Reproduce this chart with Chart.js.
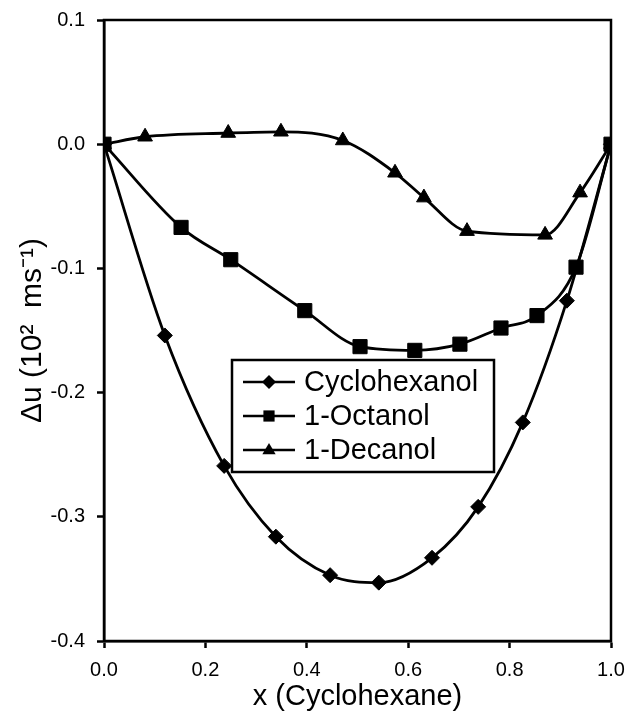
<!DOCTYPE html>
<html>
<head>
<meta charset="utf-8">
<script src="https://cdn.jsdelivr.net/npm/chart.js@4.4.1/dist/chart.umd.min.js"></script>
<style>
  html, body { margin: 0; padding: 0; background: #fff; }
  #wrap { width: 627px; height: 714px; position: relative; }
</style>
</head>
<body>
<div id="wrap"><canvas id="c" width="627" height="714"></canvas></div>
<script>
// ---- data ----
const seriesNames = ["Cyclohexanol", "1-Octanol", "1-Decanol"];

const xCyclohexanol = [0.0, 0.120, 0.237, 0.339, 0.446, 0.542, 0.647, 0.738, 0.826, 0.913, 1.0];
const yCyclohexanol = [0.0, -0.154, -0.259, -0.316, -0.347, -0.353, -0.333, -0.292, -0.224, -0.126, 0.0];

const xOctanol = [0.0, 0.152, 0.250, 0.396, 0.505, 0.613, 0.702, 0.783, 0.854, 0.931, 1.0];
const yOctanol = [0.0, -0.067, -0.093, -0.134, -0.163, -0.166, -0.161, -0.148, -0.138, -0.099, 0.0];

const xDecanol = [0.0, 0.081, 0.245, 0.349, 0.471, 0.574, 0.631, 0.716, 0.870, 0.939, 1.0];
const yDecanol = [0.0, 0.006, 0.009, 0.010, 0.003, -0.023, -0.043, -0.070, -0.073, -0.039, 0.0];

const xTicks = [0.0, 0.2, 0.4, 0.6, 0.8, 1.0];
const yTicks = [0.1, 0.0, -0.1, -0.2, -0.3, -0.4];

const xTitle = "x (Cyclohexane)";
const yTitle = "\u0394u (10\u00B2  ms\u207B\u00B9)";

function pts(xs, ys) { return xs.map((x, i) => ({ x: x, y: ys[i] })); }

const FONT = "'Liberation Sans', Arial, Helvetica, sans-serif";

const frame = {
  id: 'frame',
  afterDatasetsDraw(chart) {
    const { ctx, chartArea: a } = chart;
    ctx.save();
    ctx.strokeStyle = '#000';
    ctx.lineWidth = 2.5;
    ctx.strokeRect(a.left, a.top, a.right - a.left, a.bottom - a.top);
    ctx.restore();
  }
};

function drawMarker(ctx, style, x, y, r) {
  ctx.beginPath();
  if (style === 'rectRot') {
    ctx.moveTo(x, y - r); ctx.lineTo(x + r, y); ctx.lineTo(x, y + r); ctx.lineTo(x - r, y);
  } else if (style === 'rect') {
    ctx.rect(x - r * 0.8, y - r * 0.8, r * 1.6, r * 1.6);
  } else {
    ctx.moveTo(x, y - r); ctx.lineTo(x + r * 0.95, y + r * 0.6); ctx.lineTo(x - r * 0.95, y + r * 0.6);
  }
  ctx.closePath();
  ctx.fill();
}

const boxLegend = {
  id: 'boxLegend',
  afterDraw(chart) {
    const ctx = chart.ctx;
    const bx = 232, by = 360, bw = 262, bh = 112;
    ctx.save();
    ctx.fillStyle = '#fff';
    ctx.fillRect(bx, by, bw, bh);
    ctx.strokeStyle = '#000';
    ctx.lineWidth = 2.5;
    ctx.strokeRect(bx, by, bw, bh);
    ctx.font = '29px ' + FONT;
    ctx.textBaseline = 'middle';
    ctx.fillStyle = '#000';
    const rows = [382, 416, 450];
    chart.data.datasets.forEach((ds, i) => {
      const y = rows[i];
      ctx.lineWidth = 2.5;
      ctx.beginPath();
      ctx.moveTo(243, y); ctx.lineTo(295, y);
      ctx.stroke();
      drawMarker(ctx, ds.pointStyle, 269, y, 7);
      ctx.fillText(ds.label, 304, y + 1);
    });
    ctx.restore();
  }
};

const common = {
  borderColor: '#000',
  backgroundColor: '#000',
  pointBackgroundColor: '#000',
  pointBorderColor: '#000',
  borderWidth: 2.8,
  pointBorderWidth: 1,
  showLine: true,
  cubicInterpolationMode: 'monotone',
  fill: false
};

new Chart(document.getElementById('c'), {
  type: 'scatter',
  data: {
    datasets: [
      Object.assign({}, common, { label: seriesNames[0], data: pts(xCyclohexanol, yCyclohexanol), pointStyle: 'rectRot', pointRadius: 7.5, order: 2 }),
      Object.assign({}, common, { label: seriesNames[1], data: pts(xOctanol, yOctanol), pointStyle: 'rect', pointRadius: 10, order: 0 }),
      Object.assign({}, common, { label: seriesNames[2], data: pts(xDecanol, yDecanol), pointStyle: 'triangle', pointRadius: 8.5, order: 1 })
    ]
  },
  options: {
    responsive: false,
    animation: false,
    devicePixelRatio: 1,
    layout: { padding: { top: 20, right: 16, left: 0, bottom: 0 } },
    plugins: { legend: { display: false }, tooltip: { enabled: false } },
    scales: {
      x: {
        type: 'linear',
        min: 0, max: 1,
        afterBuildTicks(s) { s.ticks = xTicks.map(v => ({ value: v })); },
        afterFit(s) { s.height = 73; s.paddingLeft = 0; s.paddingRight = 0; },
        grid: { display: true, drawOnChartArea: false, drawTicks: true, tickLength: 7, tickWidth: 2.5, tickColor: '#000' },
        border: { display: true, color: '#000', width: 2.5 },
        ticks: {
          color: '#000', padding: 10, maxRotation: 0,
          font: { family: FONT, size: 20 },
          callback: v => Number(v).toFixed(1)
        },
        title: {
          display: true, text: xTitle, color: '#000',
          font: { family: FONT, size: 29 },
          padding: { top: 0, bottom: 0 }
        }
      },
      y: {
        type: 'linear',
        min: -0.4, max: 0.1,
        afterBuildTicks(s) { s.ticks = yTicks.map(v => ({ value: v })); },
        afterFit(s) { s.width = 104; s.paddingTop = 0; s.paddingBottom = 0; },
        grid: { display: true, drawOnChartArea: false, drawTicks: true, tickLength: 7, tickWidth: 2.5, tickColor: '#000' },
        border: { display: true, color: '#000', width: 2.5 },
        ticks: {
          color: '#000', padding: 12,
          font: { family: FONT, size: 20 },
          callback: v => Number(v).toFixed(1)
        },
        title: {
          display: true, text: yTitle, color: '#000',
          font: { family: FONT, size: 30 },
          padding: { top: 15, bottom: 0 }
        }
      }
    }
  },
  plugins: [frame, boxLegend]
});
</script>
</body>
</html>
